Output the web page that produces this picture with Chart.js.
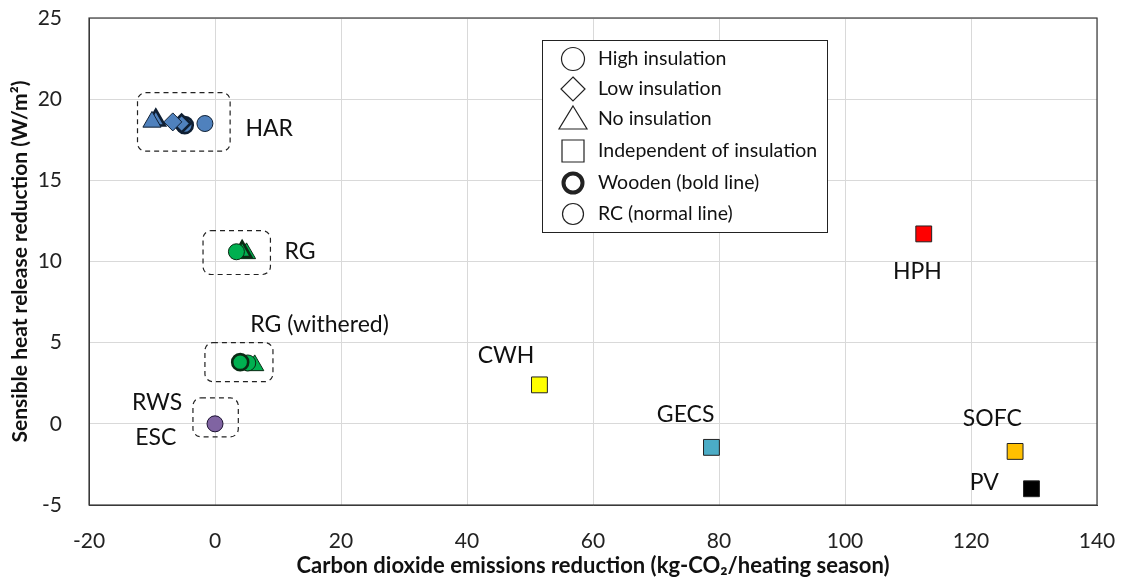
<!DOCTYPE html>
<html>
<head>
<meta charset="utf-8">
<script src="https://cdn.jsdelivr.net/npm/chart.js@4.4.1/dist/chart.umd.min.js"></script>
<style>
  html, body { margin: 0; padding: 0; background: #ffffff; }
  #wrap { width: 1121px; height: 581px; }
</style>
</head>
<body>
<div id="wrap"><canvas id="chart" width="1121" height="581"></canvas></div>
<script>
// Axis ticks
const xTicks = [-20, 0, 20, 40, 60, 80, 100, 120, 140];
const yTicks = [-5, 0, 5, 10, 15, 20, 25];

// Heat-absorbing roof (HAR): x = CO2 reduction, y = sensible heat reduction
const harX = [-1.6, -4.8, -5.3, -6.7, -9.4, -10.0];
const harY = [18.5, 18.4, 18.5, 18.6, 18.7, 18.6];
const harInsulation = ['high', 'high', 'low', 'low', 'none', 'none'];
const harWooden = [false, true, true, false, true, false];

// Roof greening (RG)
const rgX = [5.0, 4.3, 3.4];
const rgY = [10.5, 10.6, 10.6];
const rgInsulation = ['none', 'none', 'high'];
const rgWooden = [false, true, false];

// Roof greening, withered
const rgwX = [6.3, 5.2, 4.0];
const rgwY = [3.6, 3.75, 3.8];
const rgwInsulation = ['none', 'high', 'high'];
const rgwWooden = [false, false, true];

// Roof water spraying / ESC
const rwsX = [0];
const rwsY = [0];

// Systems independent of insulation
const sysNames = ['CWH', 'GECS', 'HPH', 'SOFC', 'PV'];
const sysX = [51.5, 78.8, 112.5, 127.0, 129.6];
const sysY = [2.4, -1.45, 11.7, -1.7, -4.0];

// Legend entries
const legendLabels = ['High insulation', 'Low insulation', 'No insulation',
  'Independent of insulation', 'Wooden (bold line)', 'RC (normal line)'];

// Text annotations (data-space anchor points for the group names)
const noteText = ['HAR', 'RG', 'RG (withered)', 'CWH', 'RWS', 'ESC', 'GECS', 'HPH', 'SOFC', 'PV'];
const noteX = [8.6, 13.5, 16.6, 46.2, -9.2, -9.4, 74.7, 111.5, 123.4, 122.1];
const noteY = [18.2, 10.6, 6.1, 4.2, 1.3, -0.85, 0.55, 9.35, 0.3, -3.6];

// Dashed grouping boxes [xMin, xMax, yMin, yMax]
const boxXMin = [-12.3, -1.9, -1.6, -3.5];
const boxXMax = [2.4, 8.8, 9.2, 3.7];
const boxYMin = [16.8, 9.2, 2.6, -0.8];
const boxYMax = [20.4, 11.9, 5.0, 1.6];

const FONT = 'Lato, "Open Sans", sans-serif';
const shapeOf = { high: 'circle', low: 'rectRot', none: 'triangle', indep: 'rect' };
const radiusOf = { circle: 8, rectRot: 9, triangle: 10.5, rect: 11.2 };

function groupDataset(xs, ys, ins, wooden, fill, edge) {
  const styles = ins.map(k => shapeOf[k]);
  return {
    data: xs.map((x, i) => ({ x, y: ys[i] })),
    pointStyle: styles,
    pointRadius: styles.map(s => radiusOf[s]),
    pointBackgroundColor: fill,
    pointBorderColor: edge,
    pointBorderWidth: wooden.map(w => (w ? 2.6 : 1)),
    showLine: false
  };
}

const sysFill = ['#FFFF00', '#4BACC6', '#FF0000', '#FFC000', '#000000'];

const datasets = [
  groupDataset(harX, harY, harInsulation, harWooden, '#4F81BD', '#0f1f33'),
  groupDataset(rgX, rgY, rgInsulation, rgWooden, '#00B050', '#0a2a14'),
  groupDataset(rgwX, rgwY, rgwInsulation, rgwWooden, '#00B050', '#0a2a14'),
  groupDataset(rwsX, rwsY, ['high'], [false], '#8064A2', '#1a1030'),
  {
    data: sysX.map((x, i) => ({ x, y: sysY[i] })),
    pointStyle: 'rect',
    pointRadius: radiusOf.rect,
    pointBackgroundColor: sysFill,
    pointBorderColor: '#222222',
    pointBorderWidth: 1,
    showLine: false
  }
];

function roundRect(ctx, x, y, w, h, r) {
  ctx.beginPath();
  ctx.moveTo(x + r, y);
  ctx.lineTo(x + w - r, y);
  ctx.arcTo(x + w, y, x + w, y + r, r);
  ctx.lineTo(x + w, y + h - r);
  ctx.arcTo(x + w, y + h, x + w - r, y + h, r);
  ctx.lineTo(x + r, y + h);
  ctx.arcTo(x, y + h, x, y + h - r, r);
  ctx.lineTo(x, y + r);
  ctx.arcTo(x, y, x + r, y, r);
  ctx.closePath();
}

const decorations = {
  id: 'decorations',
  beforeDatasetsDraw(chart) {
    const { ctx, scales: { x, y } } = chart;
    ctx.save();
    ctx.strokeStyle = '#222222';
    ctx.lineWidth = 1.2;
    ctx.setLineDash([5, 4]);
    for (let i = 0; i < boxXMin.length; i++) {
      const l = x.getPixelForValue(boxXMin[i]);
      const r = x.getPixelForValue(boxXMax[i]);
      const t = y.getPixelForValue(boxYMax[i]);
      const b = y.getPixelForValue(boxYMin[i]);
      roundRect(ctx, l, t, r - l, b - t, 8);
      ctx.stroke();
    }
    ctx.restore();
  },
  afterDatasetsDraw(chart) {
    const { ctx, chartArea: a, scales: { x, y } } = chart;
    ctx.save();
    // plot frame
    ctx.strokeStyle = '#3a3a3a';
    ctx.lineWidth = 1.2;
    ctx.strokeRect(a.left, a.top, a.right - a.left, a.bottom - a.top);

    // group names
    ctx.fillStyle = '#111111';
    ctx.font = '23px ' + FONT;
    ctx.textAlign = 'center';
    ctx.textBaseline = 'middle';
    noteText.forEach((t, i) => {
      ctx.fillText(t, x.getPixelForValue(noteX[i]), y.getPixelForValue(noteY[i]));
    });

    // legend box
    const lx = 542, ly = 40, lw = 285, lh = 192;
    ctx.fillStyle = '#ffffff';
    ctx.fillRect(lx, ly, lw, lh);
    ctx.strokeStyle = '#222222';
    ctx.lineWidth = 1;
    ctx.strokeRect(lx + 0.5, ly + 0.5, lw, lh);
    const rows = [59, 89, 119, 151, 183, 214];
    const cx = 573;
    rows.forEach((ry, i) => {
      ctx.beginPath();
      ctx.lineWidth = 1.2;
      if (i === 0) {
        ctx.arc(cx, ry, 11.5, 0, Math.PI * 2);
      } else if (i === 1) {
        ctx.moveTo(cx, ry - 12); ctx.lineTo(cx + 12, ry);
        ctx.lineTo(cx, ry + 12); ctx.lineTo(cx - 12, ry); ctx.closePath();
      } else if (i === 2) {
        ctx.moveTo(cx, ry - 13); ctx.lineTo(cx + 14, ry + 10);
        ctx.lineTo(cx - 14, ry + 10); ctx.closePath();
      } else if (i === 3) {
        ctx.rect(cx - 11, ry - 11, 22, 22);
      } else if (i === 4) {
        ctx.arc(cx, ry, 9.5, 0, Math.PI * 2);
        ctx.lineWidth = 4;
      } else {
        ctx.arc(cx, ry, 10.5, 0, Math.PI * 2);
      }
      ctx.stroke();
      ctx.fillStyle = '#111111';
      ctx.font = '19.5px ' + FONT;
      ctx.textAlign = 'left';
      ctx.textBaseline = 'middle';
      ctx.fillText(legendLabels[i], 598, ry);
    });
    ctx.restore();
  }
};

new Chart(document.getElementById('chart'), {
  type: 'scatter',
  data: { datasets },
  plugins: [decorations],
  options: {
    responsive: false,
    animation: false,
    events: [],
    layout: { padding: { top: 18, right: 24, left: 0, bottom: 0 } },
    plugins: { legend: { display: false }, tooltip: { enabled: false } },
    scales: {
      x: {
        type: 'linear',
        min: -20, max: 140,
        afterBuildTicks: s => { s.ticks = xTicks.map(v => ({ value: v })); },
        afterFit: s => { s.height = 76; s.paddingLeft = 0; s.paddingRight = 0; },
        grid: { color: '#d9d9d9', drawTicks: false },
        border: { color: '#3a3a3a' },
        ticks: { padding: 24, color: '#222222', font: { family: FONT, size: 21 } },
        title: {
          display: true,
          text: 'Carbon dioxide emissions reduction (kg-CO\u2082/heating season)',
          color: '#111111',
          font: { family: FONT, size: 22, weight: 'bold' },
          padding: { top: 0, bottom: 2 }
        }
      },
      y: {
        type: 'linear',
        min: -5, max: 25,
        afterBuildTicks: s => { s.ticks = yTicks.map(v => ({ value: v })); },
        afterFit: s => { s.width = 89; s.paddingTop = 0; s.paddingBottom = 0; },
        grid: { color: '#d9d9d9', drawTicks: false },
        border: { color: '#3a3a3a' },
        ticks: { padding: 27, color: '#222222', font: { family: FONT, size: 21 } },
        title: {
          display: true,
          text: 'Sensible heat release reduction (W/m\u00b2)',
          color: '#111111',
          font: { family: FONT, size: 21, weight: 'bold' },
          padding: { top: 8, bottom: 0 }
        }
      }
    }
  }
});
</script>
</body>
</html>
